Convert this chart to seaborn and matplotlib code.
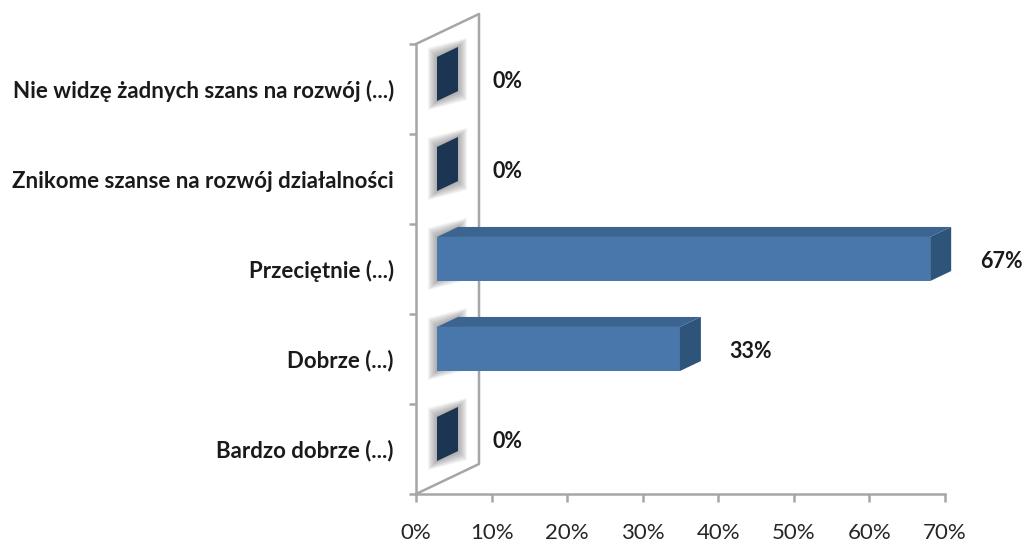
import matplotlib
matplotlib.use("Agg")
import matplotlib.pyplot as plt
import matplotlib.transforms as mtransforms
from matplotlib.patches import Polygon
from matplotlib.lines import Line2D
import pandas as pd
import seaborn as sns

categories = [
    "Nie widzę żadnych szans na rozwój (...)",
    "Znikome szanse na rozwój działalności",
    "Przeciętnie (...)",
    "Dobrze (...)",
    "Bardzo dobrze (...)",
]
values = [0.0, 0.0, 0.67, 0.33, 0.0]
value_labels = ["0%", "0%", "67%", "33%", "0%"]
x_ticks = [0.0, 0.1, 0.2, 0.3, 0.4, 0.5, 0.6, 0.7]
x_tick_labels = ["0%", "10%", "20%", "30%", "40%", "50%", "60%", "70%"]

FRONT = "#4a77ab"
TOP = "#3b6590"
CAP = "#2f5479"
ZERO_CAP = "#1c3552"
AXIS = "#a6a6a6"

sns.set_theme(style="white")
plt.rcParams["font.family"] = ["Lato", "DejaVu Sans"]

W, H = 1022, 542
fig = plt.figure(figsize=(W / 100, H / 100), dpi=100)
L, R, T, B = 416, 945, 44, 494
ax = fig.add_axes([L / W, 1 - B / H, (R - L) / W, (B - T) / H])

df = pd.DataFrame({"cat": categories, "val": values})
sns.barplot(data=df, y="cat", x="val", orient="h", color=FRONT, width=0.49,
            saturation=1, edgecolor="none", ax=ax, zorder=3)
ax.set_xlim(0, 0.7)
ax.set_ylim(4.5, -0.5)

sx = (R - L) / 0.7
sy = (B - T) / 5.0
WDX = 63 / sx
WDY = 30 / sy
k = 0.974


def P(v, y, d):
    return (k * v + d * WDX, y - d * WDY)


bar_tr = mtransforms.Affine2D().scale(k, 1).translate(WDX / 3, -WDY / 3) + ax.transData

for i, patch in enumerate(ax.patches[:len(values)]):
    v = patch.get_width()
    y0 = patch.get_y()
    y1 = y0 + patch.get_height()
    patch.set_transform(bar_tr)
    patch.set_clip_on(False)
    # soft shadow around bar start
    for e in range(1, 10):
        ex = e / sx
        ey = e / sy
        a = P(0, y0, 1 / 3)
        b = P(0, y0, 2 / 3)
        c = P(0, y1, 2 / 3)
        dd = P(0, y1, 1 / 3)
        poly = [(a[0] - ex, a[1] - ey), (b[0] + ex, b[1] - ey),
                (c[0] + ex, c[1] + ey), (dd[0] - ex, dd[1] + ey)]
        ax.add_patch(Polygon(poly, closed=True, facecolor="#6a6a6a", alpha=0.075,
                             edgecolor="none", zorder=1, clip_on=False))
    top = [P(0, y0, 1 / 3), P(0, y0, 2 / 3), P(v, y0, 2 / 3), P(v, y0, 1 / 3)]
    ax.add_patch(Polygon(top, closed=True, facecolor=TOP, edgecolor="none",
                         zorder=3, clip_on=False))
    cap = [P(v, y0, 1 / 3), P(v, y0, 2 / 3), P(v, y1, 2 / 3), P(v, y1, 1 / 3)]
    ax.add_patch(Polygon(cap, closed=True, facecolor=(ZERO_CAP if v == 0 else CAP),
                         edgecolor="none", zorder=4, clip_on=False, joinstyle="round"))
    yc = (y0 + y1) / 2
    fx, fy = P(v, yc, 1 / 3)
    ax.annotate(value_labels[i], xy=(fx, fy), xytext=(51, -1.5), textcoords="offset points",
                ha="center", va="center", fontsize=15.5, fontweight="bold",
                color="#1a1a1a", annotation_clip=False)

# back wall outline
wall = [(0 + d * WDX, y - d * WDY) for (y, d) in [(-0.5, 0), (-0.5, 1), (4.5, 1), (4.5, 0)]]
ax.add_line(Line2D([p[0] for p in wall], [p[1] for p in wall], color=AXIS, lw=1.8,
                   zorder=2, clip_on=False))

for s in ["top", "right"]:
    ax.spines[s].set_visible(False)
for s in ["left", "bottom"]:
    ax.spines[s].set_color(AXIS)
    ax.spines[s].set_linewidth(1.8)

ax.set_xticks(x_ticks)
ax.set_xticklabels(x_tick_labels, fontsize=16, color="#262626")
ax.set_yticks(range(len(categories)))
ax.set_yticklabels(categories, fontsize=16, fontweight="bold", color="#1a1a1a")
ax.set_yticks([i - 0.5 for i in range(len(categories) + 1)], minor=True)
ax.tick_params(axis="y", which="major", length=0, pad=16)
ax.tick_params(axis="y", which="minor", length=5, width=1.8, color=AXIS, direction="out", left=True)
ax.tick_params(axis="x", which="major", length=6, width=1.8, color=AXIS, direction="out",
               bottom=True, pad=15)
ax.set_xlabel("")
ax.set_ylabel("")
ax.grid(False)

fig.savefig("out.png", dpi=100)
